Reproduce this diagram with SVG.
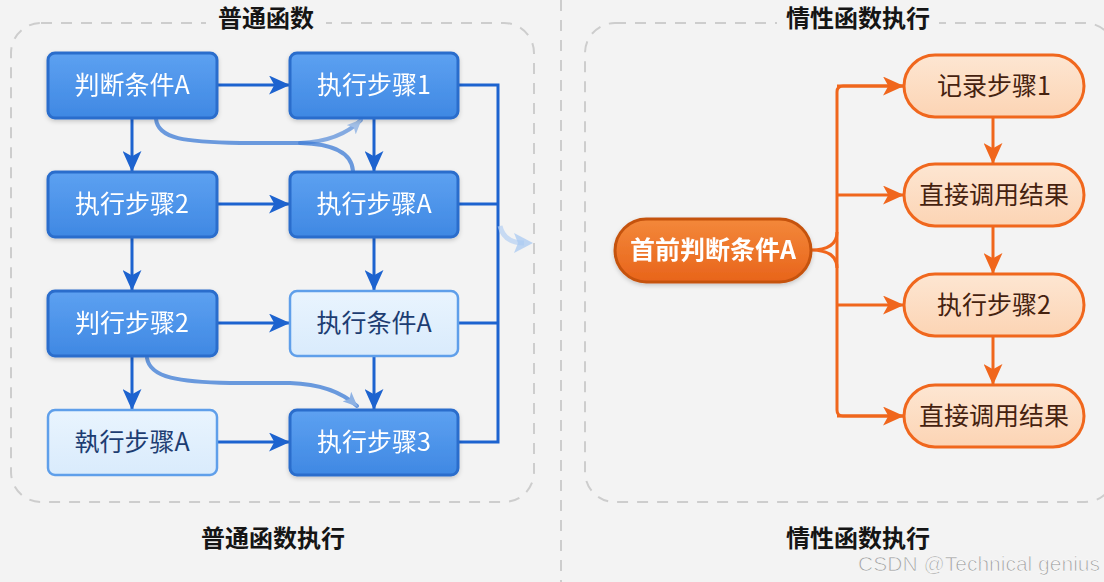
<svg xmlns="http://www.w3.org/2000/svg" width="1104" height="582" viewBox="0 0 1104 582">
<style>
  text { font-family: "Noto Sans CJK SC", "Noto Sans", sans-serif; text-anchor: middle; }
  .title { font-size: 24px; font-weight: bold; fill: #151515; }
  .lbl { font-size: 25px; }
  .dark rect { fill: url(#gBlue); stroke: #2a6dcc; stroke-width: 3; }
  .dark text { fill: #ffffff; }
  .light rect { fill: url(#gLight); stroke: #5f9fea; stroke-width: 2.5; }
  .light text { fill: #1d3d72; }
  .peach rect { fill: url(#gPeach); stroke: #f0671d; stroke-width: 3; }
  .peach text { fill: #45220f; }
  .frame { fill: none; stroke: #cdcdcd; stroke-width: 2; stroke-dasharray: 11 9; }
  .bl { fill: none; stroke: #1d63cf; stroke-width: 3; }
  .or { fill: none; stroke: #f0661c; stroke-width: 3; }
  .curve { fill: none; stroke: #3c7bd6; stroke-width: 4; stroke-linecap: round; }
</style>
<defs>
  <linearGradient id="gBlue" x1="0" y1="0" x2="0" y2="1">
    <stop offset="0" stop-color="#5da1f1"/>
    <stop offset="1" stop-color="#3f88e3"/>
  </linearGradient>
  <linearGradient id="gLight" x1="0" y1="0" x2="0" y2="1">
    <stop offset="0" stop-color="#e9f4fe"/>
    <stop offset="1" stop-color="#d9ebfc"/>
  </linearGradient>
  <linearGradient id="gPeach" x1="0" y1="0" x2="0" y2="1">
    <stop offset="0" stop-color="#fde6d2"/>
    <stop offset="1" stop-color="#fcd4b4"/>
  </linearGradient>
  <linearGradient id="gOrange" x1="0" y1="0" x2="0" y2="1">
    <stop offset="0" stop-color="#f3883a"/>
    <stop offset="1" stop-color="#e8641b"/>
  </linearGradient>
  <filter id="sh" x="-10%" y="-10%" width="120%" height="130%">
    <feDropShadow dx="0" dy="2" stdDeviation="2" flood-color="#000" flood-opacity="0.18"/>
  </filter>
  <marker id="aB" viewBox="0 0 20 18" refX="19" refY="9" markerWidth="21" markerHeight="19" markerUnits="userSpaceOnUse" orient="auto">
    <path d="M0,0 L20,9 L0,18 L5,9 Z" fill="#1d63cf"/>
  </marker>
  <marker id="aL" viewBox="0 0 16 14" refX="15" refY="7" markerWidth="15" markerHeight="13" markerUnits="userSpaceOnUse" orient="auto">
    <path d="M0,0 L16,7 L0,14 L4,7 Z" fill="#6d9de0"/>
  </marker>
  <marker id="aO" viewBox="0 0 20 18" refX="19" refY="9" markerWidth="21" markerHeight="19" markerUnits="userSpaceOnUse" orient="auto">
    <path d="M0,0 L20,9 L0,18 L5,9 Z" fill="#f0661c"/>
  </marker>
</defs>

<rect x="0" y="0" width="1104" height="582" fill="#f3f3f3"/>

<g id="frames">
  <rect class="frame" x="11" y="23" width="523" height="479" rx="30"/>
  <rect class="frame" x="585" y="23" width="530" height="479" rx="30"/>
  <line class="frame" x1="561" y1="0" x2="561" y2="582"/>
</g>

<g id="titles">
  <rect x="206" y="4" width="120" height="30" fill="#f3f3f3"/>
  <text class="title" x="266" y="27">普通函数</text>
  <rect x="777" y="4" width="162" height="30" fill="#f3f3f3"/>
  <text class="title" x="858" y="27">情性函数执行</text>
  <text class="title" x="273" y="547">普通函数执行</text>
  <text class="title" x="858" y="547">情性函数执行</text>
</g>

<g id="connectors">
  <line class="bl" x1="218" y1="85" x2="289" y2="85" marker-end="url(#aB)"/>
  <line class="bl" x1="218" y1="204" x2="289" y2="204" marker-end="url(#aB)"/>
  <line class="bl" x1="218" y1="323" x2="289" y2="323" marker-end="url(#aB)"/>
  <line class="bl" x1="218" y1="442" x2="289" y2="442" marker-end="url(#aB)"/>
  <line class="bl" x1="132" y1="119" x2="132" y2="171" marker-end="url(#aB)"/>
  <line class="bl" x1="132" y1="238" x2="132" y2="290" marker-end="url(#aB)"/>
  <line class="bl" x1="132" y1="357" x2="132" y2="409" marker-end="url(#aB)"/>
  <line class="bl" x1="374" y1="119" x2="374" y2="171" marker-end="url(#aB)"/>
  <line class="bl" x1="374" y1="238" x2="374" y2="290" marker-end="url(#aB)"/>
  <line class="bl" x1="374" y1="357" x2="374" y2="409" marker-end="url(#aB)"/>
  <path class="bl" d="M459,85 H498 V442 H459 M459,204 H498 M459,323 H498"/>
  <path d="M500,226 Q504,243 524,243" fill="none" stroke="#b3cff2" stroke-width="5" opacity="0.7"/>
  <path d="M533,243 L514,233 L518,243 L514,253 Z" fill="#a9c9f1" opacity="0.75"/>
  <path class="curve" d="M156,119 C158,139 185,142 240,143 L300,143 C340,144 352,156 353,171" opacity="0.75"/>
  <path class="curve" d="M300,143 C326,142 347,134 361,120" stroke="#8fb6ec" opacity="0.6" marker-end="url(#aL)"/>
  <path class="curve" d="M147,358 C150,378 180,382 230,383 L290,383 C322,384 344,394 357,406" opacity="0.75" marker-end="url(#aL)"/>
  <path class="or" d="M811,250 C828,250 837,244 837,232 M811,250 C828,250 837,256 837,268"/>
  <path class="or" d="M903,86 H843 Q837,86 837,92 V410 Q837,416 843,416 H903"/>
  <line class="or" x1="837" y1="86" x2="903" y2="86" marker-end="url(#aO)"/>
  <line class="or" x1="837" y1="195" x2="903" y2="195" marker-end="url(#aO)"/>
  <line class="or" x1="837" y1="305" x2="903" y2="305" marker-end="url(#aO)"/>
  <line class="or" x1="837" y1="416" x2="903" y2="416" marker-end="url(#aO)"/>
  <line class="or" x1="993" y1="118" x2="993" y2="163" marker-end="url(#aO)"/>
  <line class="or" x1="993" y1="227" x2="993" y2="273" marker-end="url(#aO)"/>
  <line class="or" x1="993" y1="337" x2="993" y2="384" marker-end="url(#aO)"/>
</g>

<g id="n1" class="dark" filter="url(#sh)"><rect x="48" y="53" width="169" height="65" rx="7"/><text class="lbl" x="132" y="94">判断条件A</text></g>
<g id="n2" class="dark" filter="url(#sh)"><rect x="290" y="53" width="168" height="65" rx="7"/><text class="lbl" x="374" y="94">执行步骤1</text></g>
<g id="n3" class="dark" filter="url(#sh)"><rect x="48" y="172" width="169" height="65" rx="7"/><text class="lbl" x="132" y="213">执行步骤2</text></g>
<g id="n4" class="dark" filter="url(#sh)"><rect x="290" y="172" width="168" height="65" rx="7"/><text class="lbl" x="374" y="213">执行步骤A</text></g>
<g id="n5" class="dark" filter="url(#sh)"><rect x="48" y="291" width="169" height="65" rx="7"/><text class="lbl" x="132" y="332">判行步骤2</text></g>
<g id="n6" class="light"><rect x="290" y="291" width="168" height="65" rx="7"/><text class="lbl" x="374" y="332">执行条件A</text></g>
<g id="n7" class="light"><rect x="48" y="410" width="169" height="65" rx="7"/><text class="lbl" x="132" y="451">執行步骤A</text></g>
<g id="n8" class="dark" filter="url(#sh)"><rect x="290" y="410" width="168" height="65" rx="7"/><text class="lbl" x="374" y="451">执行步骤3</text></g>

<g id="m0" filter="url(#sh)">
  <rect x="615" y="219" width="196" height="63" rx="31.5" fill="url(#gOrange)" stroke="#c5520f" stroke-width="3"/>
  <text class="lbl" x="713" y="259" fill="#ffffff" font-weight="bold">首前判断条件A</text>
</g>
<g id="m1" class="peach"><rect x="904" y="55" width="180" height="62" rx="31"/><text class="lbl" x="994" y="95">记录步骤1</text></g>
<g id="m2" class="peach"><rect x="904" y="164" width="180" height="62" rx="31"/><text class="lbl" x="994" y="204">直接调用结果</text></g>
<g id="m3" class="peach"><rect x="904" y="274" width="180" height="62" rx="31"/><text class="lbl" x="994" y="314">执行步骤2</text></g>
<g id="m4" class="peach"><rect x="904" y="385" width="180" height="62" rx="31"/><text class="lbl" x="994" y="425">直接调用结果</text></g>

<text x="1100" y="571" style="text-anchor:end;font-family:'Liberation Sans',Arial,sans-serif;font-size:21px" fill="#a2a2a2" stroke="#ffffff" stroke-width="0.6">CSDN @Technical genius</text>
</svg>
